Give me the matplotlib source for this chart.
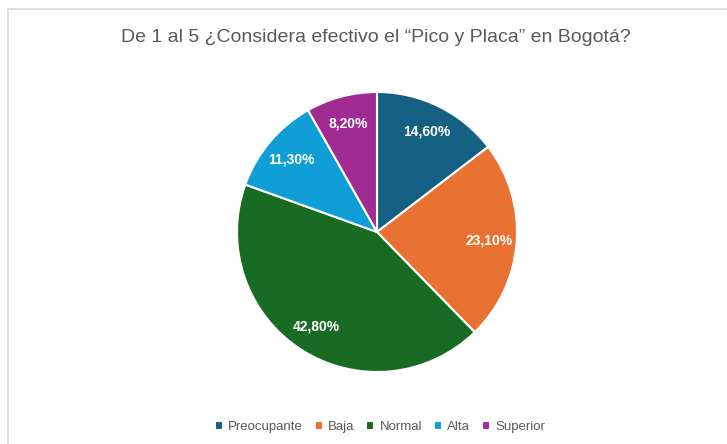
import matplotlib

matplotlib.use("Agg")
import matplotlib.pyplot as plt
from matplotlib.patches import Rectangle

TITLE = "De 1 al 5 ¿Considera efectivo el “Pico y Placa” en Bogotá?"
CATEGORIES = ["Preocupante", "Baja", "Normal", "Alta", "Superior"]
VALUES = [14.6, 23.1, 42.8, 11.3, 8.2]
COLORS = ["#156082", "#E97132", "#196B24", "#0F9ED5", "#A02B93"]

W, H = 727, 444
plt.rcParams["font.family"] = ["Liberation Sans", "DejaVu Sans"]

fig = plt.figure(figsize=(W / 100, H / 100), dpi=100)
fig.patch.set_facecolor("white")

# chart frame (only top and left edges visible in the crop)
fig.patches.append(Rectangle((8 / W, -0.1), 1.2, (H - 9) / H + 0.1,
                             transform=fig.transFigure, fill=False,
                             edgecolor="#D9D9D9", linewidth=1.2))

cx, cy, r = 377, 232, 140
ax = fig.add_axes([(cx - r) / W, (H - cy - r) / H, 2 * r / W, 2 * r / H])
wedges, _, autotexts = ax.pie(
    VALUES, colors=COLORS, startangle=90, counterclock=False,
    autopct=lambda p: f"{p:.2f}%".replace(".", ","), pctdistance=0.8,
    wedgeprops=dict(edgecolor="white", linewidth=1.5),
    textprops=dict(color="white", fontsize=10, fontweight="bold"),
)
ax.set_xlim(-1, 1)
ax.set_ylim(-1, 1)
ax.set_aspect("equal")

fig.text(376 / W, 1 - 37 / H, TITLE, ha="center", va="center",
         fontsize=14, color="#595959")

leg = fig.legend(wedges, CATEGORIES, loc="center", bbox_to_anchor=(380 / W, 1 - 427 / H),
                 ncol=5, frameon=False, fontsize=9.5, handlelength=0.6, handleheight=0.6,
                 handletextpad=0.4, columnspacing=0.9, labelcolor="#595959")

fig.savefig("out.png", dpi=100)
